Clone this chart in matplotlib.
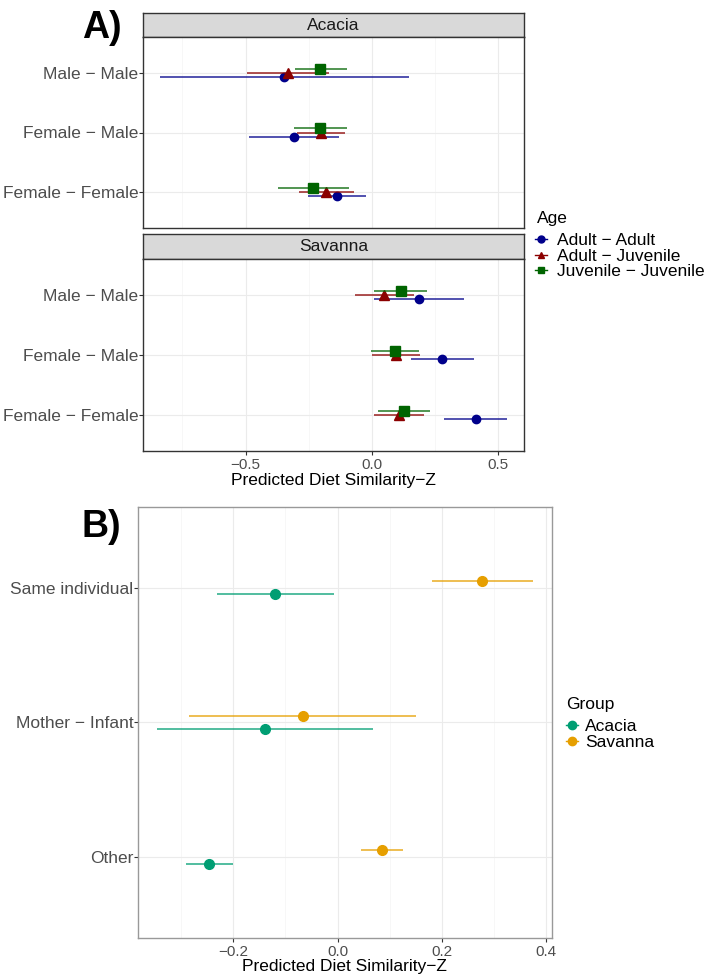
import numpy as np
import matplotlib
matplotlib.use("Agg")
import matplotlib.pyplot as plt
from matplotlib.lines import Line2D

plt.rcParams['font.family'] = ['Liberation Sans', 'DejaVu Sans']

# ---- data, panel A (facets by group, colour by age class) ----
pair_types = ["Male − Male", "Female − Male", "Female − Female"]
age_classes = ["Adult − Adult", "Adult − Juvenile", "Juvenile − Juvenile"]

# rows: age class, cols: pair type
acacia_est = [[-0.346, -0.309, -0.137],
              [-0.330, -0.201, -0.180],
              [-0.204, -0.205, -0.233]]
acacia_lo = [[-0.839, -0.486, -0.254],
             [-0.493, -0.295, -0.287],
             [-0.304, -0.308, -0.373]]
acacia_hi = [[0.149, -0.131, -0.024],
             [-0.168, -0.106, -0.071],
             [-0.099, -0.099, -0.090]]

savanna_est = [[0.189, 0.280, 0.413],
               [0.050, 0.096, 0.109],
               [0.116, 0.092, 0.127]]
savanna_lo = [[0.009, 0.156, 0.288],
              [-0.065, 0.002, 0.010],
              [0.010, -0.003, 0.024]]
savanna_hi = [[0.364, 0.404, 0.535],
              [0.168, 0.191, 0.208],
              [0.220, 0.189, 0.231]]

# ---- data, panel B ----
relations = ["Same individual", "Mother − Infant", "Other"]
groups = ["Acacia", "Savanna"]
group_est = [[-0.120, -0.140, -0.246],
             [0.277, -0.067, 0.086]]
group_lo = [[-0.231, -0.347, -0.290],
            [0.181, -0.286, 0.045]]
group_hi = [[-0.007, 0.068, -0.201],
            [0.375, 0.150, 0.126]]

age_colors = ["#00008B", "#8B0000", "#006400"]
age_markers = ["o", "^", "s"]
age_msize = [6.0, 6.5, 6.5]
group_colors = ["#009E73", "#E69F00"]

TICK_GREY = "#4D4D4D"
FS = 12.5

fig = plt.figure(figsize=(7.09, 9.77), dpi=100)
W, H = 709.0, 977.0


def px_axes(x0, y0, x1, y1):
    return fig.add_axes([x0 / W, 1 - y1 / H, (x1 - x0) / W, (y1 - y0) / H])


def style_panel(ax, border="#333333"):
    ax.set_facecolor("white")
    for s in ax.spines.values():
        s.set_color(border)
        s.set_linewidth(1.0)
    ax.grid(True, which="major", color="#EBEBEB", lw=0.8)
    ax.grid(True, which="minor", axis="x", color="#F4F4F4", lw=0.5)
    ax.set_axisbelow(True)
    ax.tick_params(axis="both", which="major", color="#333333", length=3,
                   width=0.8, colors=TICK_GREY)
    ax.tick_params(axis="x", which="minor", length=0)
    ax.tick_params(axis="y", labelsize=FS, pad=0.5)
    ax.tick_params(axis="x", labelsize=11, pad=2)


def strip(x0, y0, x1, y1, label):
    s = px_axes(x0, y0, x1, y1)
    s.set_facecolor("#D9D9D9")
    for sp in s.spines.values():
        sp.set_color("#333333")
        sp.set_linewidth(1.0)
    s.set_xticks([])
    s.set_yticks([])
    s.text(0.5, 0.5, label, ha="center", va="center", fontsize=FS,
           color="#1A1A1A", transform=s.transAxes)


# ---- panel A ----
ypos = np.array([3, 2, 1])
dodge_a = [-0.07, 0.0, 0.07]
panels_a = [("Acacia", acacia_est, acacia_lo, acacia_hi, 37, 228, 13),
            ("Savanna", savanna_est, savanna_lo, savanna_hi, 259, 451, 234)]
axes_a = []
for name, est, lo, hi, top, bot, stop in panels_a:
    strip(143.3, stop, 523.7, top, name)
    ax = px_axes(143.3, top, 523.7, bot)
    style_panel(ax)
    for k in range(3):
        yy = ypos + dodge_a[k]
        ax.hlines(yy, lo[k], hi[k], color=age_colors[k], lw=1.2, alpha=0.8)
        ax.plot(est[k], yy, linestyle="none", marker=age_markers[k],
                ms=age_msize[k], color=age_colors[k])
    ax.set_xlim(-0.905, 0.602)
    ax.set_ylim(0.4, 3.6)
    ax.set_xticks([-0.5, 0.0, 0.5])
    ax.set_xticks([-0.75, -0.25, 0.25], minor=True)
    ax.set_yticks(ypos)
    ax.set_yticklabels(pair_types)
    axes_a.append(ax)

axes_a[0].tick_params(axis="x", labelbottom=False, length=0)
axes_a[1].set_xlabel("Predicted Diet Similarity−Z", fontsize=FS, labelpad=1)

fig.text(82 / W, 1 - 28 / H, "A)", fontsize=27, fontweight="bold",
         ha="left", va="center")

# legend A: title as text, entries as legend
fig.text(537 / W, 1 - 218 / H, "Age", fontsize=FS, ha="left", va="center")
handles_a = [Line2D([0], [0], color=age_colors[k], marker=age_markers[k],
                    ms=5, lw=1.0) for k in range(3)]
fig.legend(handles_a, age_classes, loc="upper left",
           bbox_to_anchor=(535 / W, 1 - 233 / H), frameon=False,
           fontsize=FS, handlelength=0.7, handletextpad=0.55,
           labelspacing=0.02, borderaxespad=0, borderpad=0)

# ---- panel B ----
ax = px_axes(138, 507, 551.7, 937.7)
style_panel(ax, border="#999999")
dodge_b = [-0.05, 0.05]
for g in range(2):
    yy = ypos + dodge_b[g]
    ax.hlines(yy, group_lo[g], group_hi[g], color=group_colors[g], lw=1.2,
              alpha=0.8)
    ax.plot(group_est[g], yy, linestyle="none", marker="o", ms=7,
            color=group_colors[g])
ax.set_xlim(-0.383, 0.411)
ax.set_ylim(0.4, 3.6)
ax.set_xticks([-0.2, 0.0, 0.2, 0.4])
ax.set_xticks([-0.3, -0.1, 0.1, 0.3], minor=True)
ax.set_yticks(ypos)
ax.set_yticklabels(relations)
ax.set_xlabel("Predicted Diet Similarity−Z", fontsize=FS, labelpad=0)

fig.text(82 / W, 1 - 527 / H, "B)", fontsize=27, fontweight="bold",
         ha="left", va="center")

fig.text(566 / W, 1 - 705 / H, "Group", fontsize=FS, ha="left", va="center")
handles_b = [Line2D([0], [0], color=group_colors[g], marker="o", ms=6,
                    lw=1.0) for g in range(2)]
fig.legend(handles_b, groups, loc="upper left",
           bbox_to_anchor=(566 / W, 1 - 719 / H), frameon=False,
           fontsize=FS, handlelength=0.7, handletextpad=0.4,
           labelspacing=0.06, borderaxespad=0, borderpad=0)

fig.savefig("out.png", dpi=100)
